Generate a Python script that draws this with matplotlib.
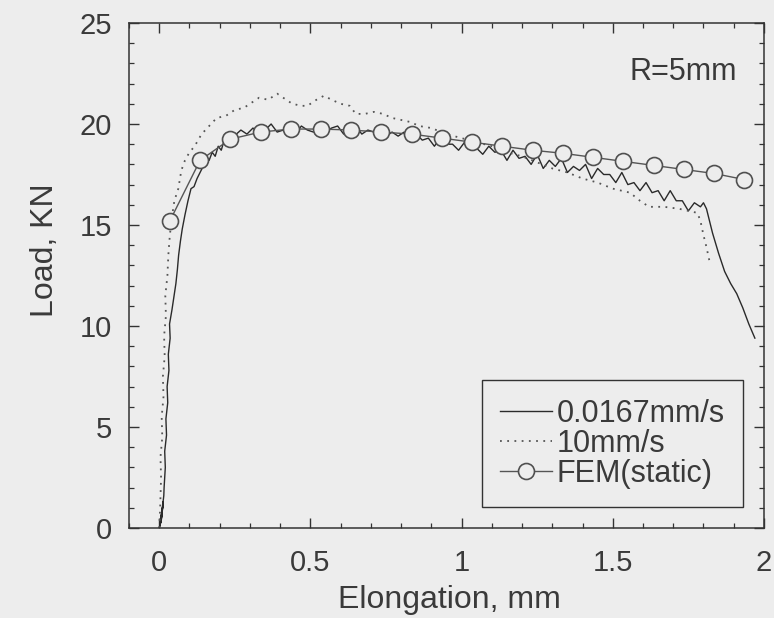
import matplotlib
matplotlib.use('Agg')
from matplotlib import pyplot as plt
from matplotlib.ticker import MultipleLocator

plt.rcParams['font.family'] = ['Liberation Sans', 'DejaVu Sans']

# 0.0167mm/s (solid)
slow_x = [0.0, 0.005, 0.002, 0.008, 0.003, 0.010, 0.004, 0.012, 0.006, 0.013, 0.008, 0.015,
          0.016, 0.020, 0.018, 0.024, 0.022, 0.028, 0.026, 0.032, 0.030, 0.036, 0.034, 0.042,
          0.048, 0.055, 0.060, 0.064, 0.070, 0.076, 0.085, 0.095, 0.105, 0.115, 0.125, 0.135,
          0.145, 0.155, 0.165, 0.175, 0.185, 0.195, 0.205, 0.215, 0.225, 0.235, 0.245, 0.255,
          0.27, 0.29, 0.31, 0.33, 0.35, 0.37, 0.39, 0.41, 0.43, 0.45, 0.47, 0.49,
          0.51, 0.53, 0.55, 0.57, 0.59, 0.61, 0.63, 0.65, 0.67, 0.69, 0.71, 0.73,
          0.75, 0.77, 0.79, 0.81, 0.83, 0.85, 0.87, 0.89, 0.91, 0.93, 0.95, 0.97,
          0.99, 1.01, 1.03, 1.05, 1.07, 1.09, 1.11, 1.13, 1.15, 1.17, 1.19, 1.21,
          1.23, 1.25, 1.27, 1.29, 1.31, 1.33, 1.35, 1.37, 1.39, 1.41, 1.43, 1.45,
          1.47, 1.49, 1.51, 1.53, 1.55, 1.57, 1.59, 1.61, 1.63, 1.65, 1.67, 1.69,
          1.71, 1.73, 1.75, 1.77, 1.79, 1.80, 1.81, 1.83, 1.85, 1.87, 1.89, 1.91,
          1.93, 1.95, 1.97]
slow_y = [0.0, 0.3, 0.1, 0.6, 0.2, 0.9, 0.4, 1.1, 0.3, 1.3, 0.7, 1.6,
          2.0, 3.0, 3.8, 4.6, 5.4, 6.2, 7.0, 7.8, 8.6, 9.4, 10.1, 10.8,
          11.4, 12.1, 12.8, 13.5, 14.2, 14.8, 15.5, 16.2, 16.8, 16.9, 17.3, 17.6,
          17.9, 18.3, 18.2, 18.6, 18.4, 18.9, 18.7, 19.2, 18.9, 19.3, 19.1, 19.5,
          19.7, 19.5, 19.8, 19.5, 19.7, 20.0, 19.6, 19.7, 19.8, 19.5, 19.9, 19.7,
          19.6, 20.0, 19.6, 19.8, 19.9, 19.5, 19.8, 19.9, 19.5, 19.7, 19.6, 19.8,
          19.4, 19.6, 19.4, 19.6, 19.1, 19.5, 19.2, 19.3, 18.9, 19.3, 19.0, 19.0,
          18.7, 19.1, 18.8, 18.8, 18.5, 18.9, 18.6, 18.7, 18.2, 18.7, 18.3, 18.4,
          18.0, 18.5, 17.8, 18.2, 17.9, 18.3, 17.6, 17.9, 17.7, 18.0, 17.3, 17.8,
          17.5, 17.5, 17.1, 17.6, 17.0, 17.1, 16.7, 17.1, 16.6, 16.7, 16.2, 16.7,
          16.2, 16.2, 15.7, 16.1, 15.9, 16.1, 15.8, 14.6, 13.6, 12.7, 12.1, 11.6,
          10.9, 10.1, 9.4]

# 10mm/s (dotted)
fast_x = [0.0, 0.003, 0.006, 0.004, 0.010, 0.008, 0.014, 0.012, 0.018, 0.016, 0.022, 0.020,
          0.027, 0.030, 0.035, 0.043, 0.050, 0.063, 0.073, 0.085, 0.100, 0.117, 0.140, 0.165,
          0.19, 0.22, 0.25, 0.28, 0.31, 0.33, 0.36, 0.39, 0.41, 0.44, 0.47, 0.49,
          0.52, 0.545, 0.57, 0.60, 0.63, 0.65, 0.68, 0.71, 0.74, 0.77, 0.80, 0.83,
          0.86, 0.90, 0.95, 1.00, 1.05, 1.10, 1.15, 1.20, 1.25, 1.30, 1.35, 1.40,
          1.45, 1.50, 1.557, 1.59, 1.62, 1.67, 1.72, 1.75, 1.78, 1.79, 1.80, 1.81, 1.82]
fast_y = [0.0, 1.0, 2.5, 3.5, 4.5, 5.5, 6.5, 7.5, 8.5, 9.5, 10.5, 11.5,
          12.5, 13.5, 14.5, 15.5, 16.2, 16.8, 17.7, 18.2, 18.6, 18.9, 19.5, 19.9,
          20.3, 20.4, 20.7, 20.8, 21.1, 21.3, 21.2, 21.5, 21.3, 21.0, 20.9, 20.9,
          21.2, 21.4, 21.2, 21.0, 20.9, 20.5, 20.5, 20.6, 20.5, 20.3, 20.2, 20.1,
          19.9, 19.8, 19.5, 19.3, 19.1, 18.9, 18.6, 18.4, 18.1, 17.8, 17.6, 17.3,
          17.1, 16.8, 16.6, 16.2, 15.9, 15.9, 15.8, 15.7, 15.6, 15.2, 14.5, 13.9, 13.2]

# FEM(static)
fem_x = [0.035, 0.135, 0.235, 0.335, 0.435, 0.535, 0.635, 0.735, 0.835, 0.935,
         1.035, 1.135, 1.235, 1.335, 1.435, 1.535, 1.635, 1.735, 1.835, 1.935]
fem_y = [15.2, 18.2, 19.25, 19.6, 19.75, 19.75, 19.7, 19.6, 19.5, 19.3,
         19.1, 18.9, 18.7, 18.55, 18.35, 18.15, 17.95, 17.75, 17.55, 17.25]

bg = '#ededed'
ink = '#333333'
txt = '#3a3a3a'

fig = plt.figure(figsize=(7.74, 6.18), dpi=100, facecolor=bg)
ax = fig.add_axes([0.1667, 0.1456, 0.8203, 0.8172], facecolor=bg)

ax.plot(slow_x, slow_y, '-', color='#2a2a2a', linewidth=1.0, label='0.0167mm/s')
ax.plot(fast_x, fast_y, color='#555555', linewidth=1.3, linestyle=(0, (1, 3)), label='10mm/s')
ax.plot(fem_x, fem_y, '-o', color='#555555', linewidth=1.0, markersize=11.5,
        markerfacecolor=bg, markeredgecolor='#505050', markeredgewidth=1.2, label='FEM(static)')

ax.set_xlim(-0.1, 2)
ax.set_ylim(0, 25)
ax.xaxis.set_major_locator(MultipleLocator(0.5))
ax.xaxis.set_minor_locator(MultipleLocator(0.1))
ax.yaxis.set_major_locator(MultipleLocator(5))
ax.yaxis.set_minor_locator(MultipleLocator(1))
ax.set_xticks([0, 0.5, 1, 1.5, 2], ['0', '0.5', '1', '1.5', '2'])
ax.tick_params(which='both', direction='in', top=True, right=True, color=ink,
               labelsize=21, labelcolor=txt)
ax.tick_params(axis='x', pad=15)
ax.tick_params(axis='y', pad=12)
ax.tick_params(which='major', length=7, width=1.0)
ax.tick_params(which='minor', length=3.5, width=0.9)
for s in ax.spines.values():
    s.set_color(ink)
    s.set_linewidth(1.1)

ax.set_xlabel('Elongation, mm', fontsize=23, color=txt)
ax.set_ylabel('Load, KN', fontsize=23, color=txt)
ax.xaxis.set_label_coords(0.504, -0.113)
ax.yaxis.set_label_coords(-0.108, 0.55)

ax.text(0.957, 0.903, 'R=5mm', transform=ax.transAxes, ha='right', va='center',
        fontsize=22, color=txt)

leg = ax.legend(loc='lower right', bbox_to_anchor=(0.967, 0.0416), borderaxespad=0,
                fontsize=22, fancybox=False, framealpha=1, facecolor=bg, edgecolor=ink,
                handlelength=1.7, handletextpad=0.15, labelspacing=0.0, numpoints=1,
                borderpad=0.6)
for t in leg.get_texts():
    t.set_color(txt)
leg.get_frame().set_linewidth(1.0)

fig.savefig('out.png', dpi=100, facecolor=bg)
